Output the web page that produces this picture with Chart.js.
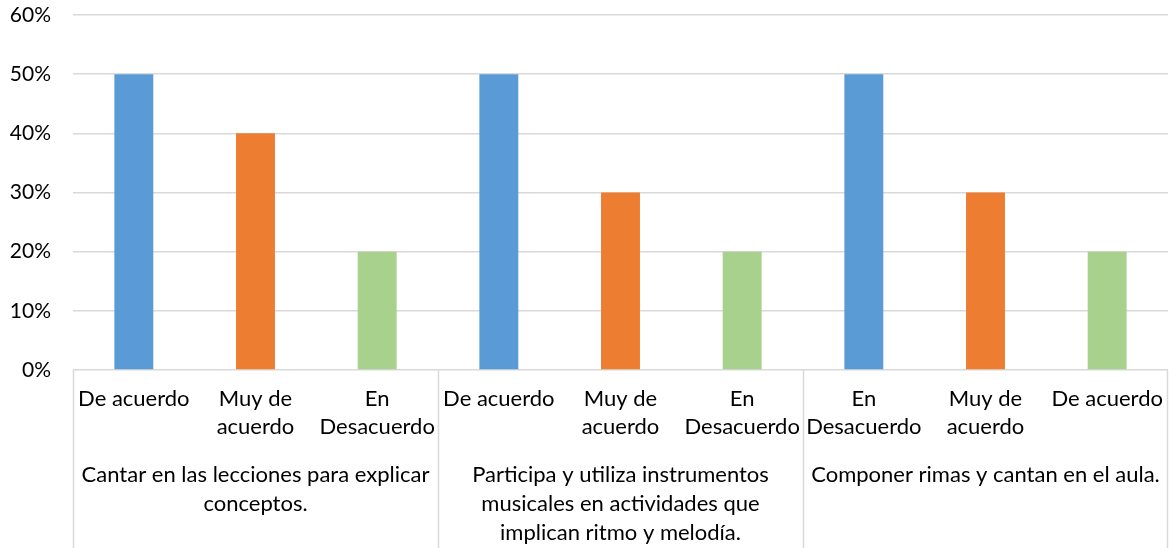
<!DOCTYPE html>
<html>
<head>
<meta charset="utf-8">
<script src="https://cdn.jsdelivr.net/npm/chart.js@4/dist/chart.umd.min.js"></script>
<style>
  html, body { margin: 0; padding: 0; background: #ffffff; }
  #wrap { width: 1169px; height: 548px; }
</style>
</head>
<body>
<div id="wrap"><canvas id="c" width="1169" height="548"></canvas></div>
<script>
// Answer options under each statement (multi-line tick labels)
const categories = [
  ['De acuerdo'], ['Muy de', 'acuerdo'], ['En', 'Desacuerdo'],
  ['De acuerdo'], ['Muy de', 'acuerdo'], ['En', 'Desacuerdo'],
  ['En', 'Desacuerdo'], ['Muy de', 'acuerdo'], ['De acuerdo']
];

// Share of responses, in percent
const values = [50, 40, 20, 50, 30, 20, 50, 30, 20];

// Statements grouping the options (wrapped lines)
const groupLabels = [
  ['Cantar en las lecciones para explicar', 'conceptos.'],
  ['Participa y utiliza instrumentos', 'musicales en actividades que', 'implican ritmo y melodía.'],
  ['Componer rimas y cantan en el aula.']
];
const groupSize = 3;

// Bar fill by position inside each group
const positionColors = ['#5B9BD5', '#ED7D31', '#A9D18E'];

// Value axis
const yMin = 0;
const yMax = 60;
const yStep = 10;

const FONT = 'Lato, "Open Sans", "Liberation Sans", sans-serif';
const FONT_SIZE = 22;
const TICK_FONT_SIZE = 21;
const TEXT = '#000000';
const GRID = '#D9D9D9';

// Draws the outer category level: separators and statement text
const groupAxis = {
  id: 'groupAxis',
  afterDraw(chart) {
    const xs = chart.scales.x;
    const ctx = chart.ctx;
    const step = xs.getPixelForValue(1) - xs.getPixelForValue(0);
    const top = chart.chartArea.bottom;
    const bottom = chart.height;
    ctx.save();
    ctx.strokeStyle = GRID;
    ctx.lineWidth = 1.5;
    for (let g = 0; g <= groupLabels.length; g++) {
      let px;
      if (g < groupLabels.length) px = xs.getPixelForValue(g * groupSize) - step / 2;
      else px = xs.getPixelForValue(categories.length - 1) + step / 2 - 1;
      px = Math.round(px) + 0.5;
      ctx.beginPath();
      ctx.moveTo(px, top);
      ctx.lineTo(px, bottom);
      ctx.stroke();
    }
    ctx.fillStyle = TEXT;
    ctx.font = FONT_SIZE + 'px ' + FONT;
    ctx.textAlign = 'center';
    ctx.textBaseline = 'middle';
    groupLabels.forEach((lines, g) => {
      const first = xs.getPixelForValue(g * groupSize);
      const last = xs.getPixelForValue(g * groupSize + groupSize - 1);
      const cx = (first + last) / 2;
      lines.forEach((line, i) => {
        ctx.fillText(line, cx, top + 105 + i * 29);
      });
    });
    ctx.restore();
  }
};

new Chart(document.getElementById('c'), {
  type: 'bar',
  data: {
    labels: categories,
    datasets: [{
      data: values,
      backgroundColor: values.map((v, i) => positionColors[i % groupSize]),
      borderWidth: 0,
      barPercentage: 0.32,
      categoryPercentage: 1.0
    }]
  },
  options: {
    responsive: false,
    animation: false,
    layout: { padding: { top: 15, right: 1, left: 0, bottom: 0 } },
    plugins: {
      legend: { display: false },
      tooltip: { enabled: false }
    },
    scales: {
      x: {
        grid: { display: false, drawTicks: false },
        border: { display: false },
        ticks: {
          color: TEXT,
          font: { family: FONT, size: FONT_SIZE, lineHeight: '28px' },
          padding: 15,
          maxRotation: 0,
          minRotation: 0,
          autoSkip: false
        },
        afterFit(scale) { scale.height = 178; scale.paddingLeft = 0; scale.paddingRight = 0; }
      },
      y: {
        min: yMin,
        max: yMax,
        grid: { color: GRID, lineWidth: 1.5, drawTicks: false },
        border: { display: false },
        ticks: {
          stepSize: yStep,
          color: TEXT,
          font: { family: FONT, size: TICK_FONT_SIZE },
          padding: 22,
          callback: v => v + '%'
        },
        afterFit(scale) { scale.width = 73; scale.paddingTop = 0; scale.paddingBottom = 0; }
      }
    }
  },
  plugins: [groupAxis]
});
</script>
</body>
</html>
